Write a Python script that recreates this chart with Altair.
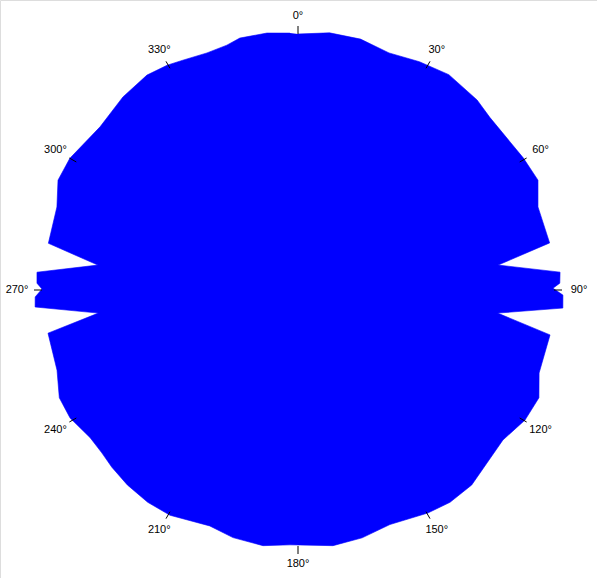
import altair as alt
import pandas as pd

# ---- data (angle in degrees, clockwise from north;
#      value in % of the outer axis circle) ----
angle_deg = [0, 7, 14, 21, 28, 35, 43.3, 48, 59.6, 65.4, 70.9, 79.4, 82.9, 86.1, 88.5, 89.6,
             91.1, 93.9, 96.6, 100.1, 109, 114.1, 119.8, 126.2, 138.3, 144.4, 149.8, 158.6,
             165.5, 172.2, 179.6,
             181.8, 187.8, 194.7, 200.5, 209.6, 215.3, 221.2, 226.4, 230.3, 234.6, 240.7,
             245.7, 251.6, 260.2, 263.4, 266.3, 268.5, 270.2, 271.5, 273.9, 277.1, 280.6,
             289, 294.6, 300, 309.5, 317.8, 324.9, 329.8, 333.4, 339, 343.8, 347, 353.1, 358.2]
radius_pct = [100.0, 101.2, 101.0, 99.2, 101.0, 102.7, 102.0, 100.8, 102.0, 103.1, 99.2, 100.0,
              78.8, 102.6, 102.3, 99.6,
              103.5, 103.7, 78.5, 100.0, 99.6, 103.1, 102.2, 99.2, 102.0, 102.0, 100.8, 98.4,
              100.0, 100.8, 99.6,
              99.6, 100.8, 100.0, 98.4, 101.2, 101.6, 101.2, 100.4, 99.6, 99.6, 102.1,
              102.3, 99.2, 99.1, 78.5, 102.9, 102.7, 100.0, 102.0, 102.2, 78.8, 99.2,
              99.6, 103.1, 102.9, 100.2, 101.8, 102.6, 101.6, 100.4, 99.2, 99.6, 101.0, 101.1, 100.4]

tick_angles = [0, 30, 60, 90, 120, 150, 180, 210, 240, 270, 300, 330]
tick_labels = ["0°", "30°", "60°", "90°", "120°", "150°", "180°", "210°", "240°", "270°", "300°", "330°"]

# ---- layout ----
W, H = 597, 578
CX, CY = 298, 290          # centre of the polar plot in pixels
R_PX = 256                 # pixel radius of the outer axis circle
UNIT = R_PX / 100.0        # pixels per value unit
TICK_LEN = 8 / UNIT

xs = alt.Scale(domain=[-CX / UNIT, (W - CX) / UNIT], range=[0, W], nice=False, zero=False)
ys = alt.Scale(domain=[-(H - CY) / UNIT, CY / UNIT], range=[H, 0], nice=False, zero=False)

df = pd.DataFrame({"angle": angle_deg, "value": radius_pct, "i": list(range(len(angle_deg)))})
df_ticks = pd.DataFrame({"angle": tick_angles, "label": tick_labels})

area = alt.Chart(df).transform_calculate(
    px="datum.value * sin(datum.angle * PI / 180)",
    py="datum.value * cos(datum.angle * PI / 180)",
).mark_line(fill="#0000ff", stroke="#0000ff", strokeWidth=0.6, interpolate="linear").encode(
    x=alt.X("px:Q", scale=xs, axis=None),
    y=alt.Y("py:Q", scale=ys, axis=None),
    order=alt.Order("i:Q"),
)

ticks = alt.Chart(df_ticks).transform_calculate(
    x1=f"100 * sin(datum.angle * PI / 180)",
    y1=f"100 * cos(datum.angle * PI / 180)",
    x2=f"{100 + TICK_LEN} * sin(datum.angle * PI / 180)",
    y2=f"{100 + TICK_LEN} * cos(datum.angle * PI / 180)",
).mark_rule(color="black", strokeWidth=1).encode(
    x=alt.X("x1:Q", scale=xs, axis=None),
    y=alt.Y("y1:Q", scale=ys, axis=None),
    x2="x2:Q",
    y2="y2:Q",
)

labels = alt.Chart(df_ticks).transform_calculate(
    rl=f"(274 + 7 * abs(sin(datum.angle * PI / 180))) / {UNIT}",
).transform_calculate(
    lx="datum.rl * sin(datum.angle * PI / 180)",
    ly="datum.rl * cos(datum.angle * PI / 180)",
).mark_text(font="Liberation Sans", fontSize=11, color="black", align="center",
            baseline="middle").encode(
    x=alt.X("lx:Q", scale=xs, axis=None),
    y=alt.Y("ly:Q", scale=ys, axis=None),
    text="label:N",
)

chart = alt.layer(area, ticks, labels).properties(
    width=W, height=H, padding=0, autosize=alt.AutoSizeParams(type="none")
).configure_view(strokeWidth=0).configure(background="white")

chart.save("out.html", embed_options={"renderer": "svg", "actions": False})
